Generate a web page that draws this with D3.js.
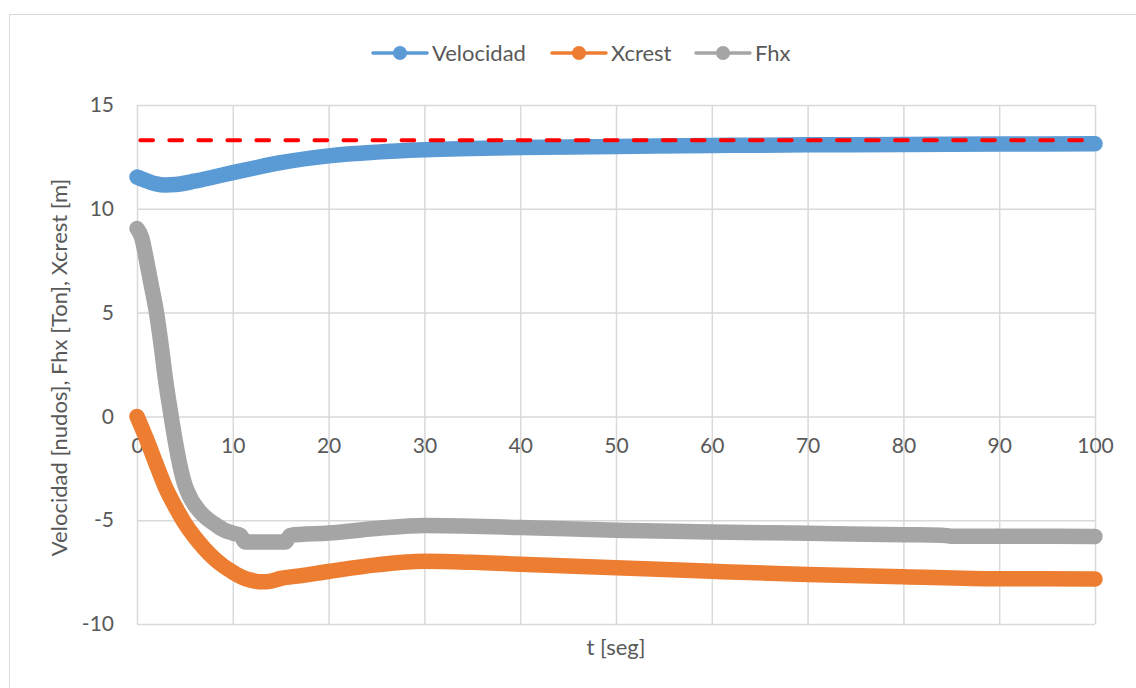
<!DOCTYPE html>
<html>
<head>
<meta charset="utf-8">
<script src="https://cdn.jsdelivr.net/npm/d3@7"></script>
<style>
  html, body { margin: 0; padding: 0; background: #ffffff; }
  svg { display: block; }
  text { font-family: Lato, "Open Sans", sans-serif; fill: #595959; }
</style>
</head>
<body>
<svg id="chart" width="1136" height="688"></svg>
<script>
// ---- data ----
const xTicks = [0, 10, 20, 30, 40, 50, 60, 70, 80, 90, 100];
const yTicks = [-10, -5, 0, 5, 10, 15];
const seriesNames = ["Velocidad", "Xcrest", "Fhx"];
const seriesColors = ["#5b9bd5", "#ed7d31", "#a5a5a5"];
const refValue = 13.3; // red dashed reference line

const tVelocidad = [0, 1, 2, 3, 4, 6, 8, 10, 12.5, 15, 20, 25, 30, 40, 50, 60, 70, 80, 90, 100];
const velocidad  = [11.53, 11.35, 11.2, 11.15, 11.17, 11.33, 11.53, 11.74, 11.99, 12.22, 12.55, 12.73, 12.84, 12.95, 13.0, 13.05, 13.08, 13.1, 13.12, 13.13];

const tXcrest = [0, 1, 2, 3, 4, 5, 6, 7, 8, 9, 10, 11, 12, 13, 14, 15, 17, 20, 25, 30, 35, 40, 50, 60, 70, 80, 90, 100];
const xcrest  = [0, -1.1, -2.3, -3.45, -4.35, -5.15, -5.8, -6.35, -6.82, -7.2, -7.5, -7.75, -7.9, -7.97, -7.93, -7.8, -7.68, -7.47, -7.15, -6.98, -7.03, -7.12, -7.29, -7.46, -7.61, -7.72, -7.82, -7.83];

const tFhx = [0, 0.5, 1, 1.5, 2, 2.5, 3, 3.5, 4, 4.5, 5, 5.5, 6, 6.5, 7, 8, 9, 10, 10.8, 11.3, 15.5, 16, 20, 25, 30, 40, 50, 60, 70, 80, 84, 85, 100];
const fhx  = [9.05, 8.6, 7.5, 6.3, 5.1, 3.5, 1.7, 0.2, -1.2, -2.4, -3.3, -3.85, -4.25, -4.55, -4.8, -5.15, -5.45, -5.62, -5.73, -6.05, -6.05, -5.73, -5.62, -5.4, -5.25, -5.35, -5.48, -5.57, -5.63, -5.7, -5.72, -5.77, -5.78];

const xTitle = "t [seg]";
const yTitle = "Velocidad [nudos], Fhx [Ton], Xcrest [m]";

// ---- layout ----
const svg = d3.select("#chart");
const W = 1136, H = 688;
const plot = { left: 137, top: 105, right: 1095, bottom: 624 };
const fmt = d => String(d);

svg.append("rect").attr("x", 0).attr("y", 0).attr("width", W).attr("height", H).attr("fill", "#fff");
svg.append("rect").attr("x", 9.5).attr("y", 14.5).attr("width", W + 20).attr("height", H + 20)
  .attr("fill", "none").attr("stroke", "#d9d9d9").attr("stroke-width", 1);

const x = d3.scaleLinear().domain([0, 100]).range([plot.left, plot.right]);
const y = d3.scaleLinear().domain([-10, 15]).range([plot.bottom, plot.top]);

// grid lines
const gx = svg.append("g").attr("transform", `translate(0,${plot.bottom})`)
  .call(d3.axisBottom(x).tickValues(xTicks).tickSize(-(plot.bottom - plot.top)).tickFormat(""));
gx.select(".domain").remove();
gx.selectAll("line").attr("stroke", "#d9d9d9").attr("stroke-width", 1.5);

const gy = svg.append("g").attr("transform", `translate(${plot.left},0)`)
  .call(d3.axisLeft(y).tickValues(yTicks).tickSize(-(plot.right - plot.left)).tickFormat(""));
gy.select(".domain").remove();
gy.selectAll("line").attr("stroke", "#d9d9d9").attr("stroke-width", 1.5);

// y tick labels
const yl = svg.append("g").attr("transform", `translate(${plot.left},0)`)
  .call(d3.axisLeft(y).tickValues(yTicks).tickSize(0).tickPadding(23).tickFormat(fmt));
yl.select(".domain").remove();
yl.selectAll("text").attr("font-size", 21).attr("fill", "#595959")
  .style("font-family", "Lato, 'Open Sans', sans-serif");

// x tick labels at y = 0
const xl = svg.append("g").attr("transform", `translate(0,${y(0)})`)
  .call(d3.axisBottom(x).tickValues(xTicks).tickSize(0).tickPadding(22).tickFormat(fmt));
xl.select(".domain").remove();
xl.selectAll("text").attr("font-size", 21).attr("fill", "#595959")
  .style("font-family", "Lato, 'Open Sans', sans-serif");

// axis titles
svg.append("text").attr("x", (plot.left + plot.right) / 2).attr("y", 655)
  .attr("text-anchor", "middle").attr("font-size", 22).text(xTitle);
svg.append("text").attr("transform", `translate(67,${(plot.top + plot.bottom) / 2 + 3}) rotate(-90)`)
  .attr("text-anchor", "middle").attr("font-size", 22).text(yTitle);

// series
const line = d3.line().x(d => x(d[0])).y(d => y(d[1])).curve(d3.curveMonotoneX);
const series = [
  { name: seriesNames[0], color: seriesColors[0], pts: d3.zip(tVelocidad, velocidad) },
  { name: seriesNames[1], color: seriesColors[1], pts: d3.zip(tXcrest, xcrest) },
  { name: seriesNames[2], color: seriesColors[2], pts: d3.zip(tFhx, fhx) }
];
svg.append("g").selectAll("path").data(series).join("path")
  .attr("d", d => line(d.pts))
  .attr("fill", "none").attr("stroke", d => d.color)
  .attr("stroke-width", 15.5).attr("stroke-linecap", "round").attr("stroke-linejoin", "round");

// red dashed reference
svg.append("path")
  .attr("d", d3.line().x(d => x(d)).y(() => y(refValue))([0, 100]))
  .attr("fill", "none").attr("stroke", "#ff0000").attr("stroke-width", 4)
  .attr("stroke-dasharray", "12.7,16.33").attr("stroke-dashoffset", -3.3)
  .attr("stroke-linecap", "round");

// legend
const legendX = [373, 552, 696];
const lg = svg.append("g").selectAll("g").data(series).join("g")
  .attr("transform", (d, i) => `translate(${legendX[i]},53)`);
lg.append("line").attr("x1", 0).attr("x2", 54).attr("y1", 0).attr("y2", 0)
  .attr("stroke", d => d.color).attr("stroke-width", 3.5).attr("stroke-linecap", "round");
lg.append("circle").attr("cx", 27).attr("cy", 0).attr("r", 7).attr("fill", d => d.color);
lg.append("text").attr("x", 59).attr("y", 7.5).attr("font-size", 22).text(d => d.name);
</script>
</body>
</html>
